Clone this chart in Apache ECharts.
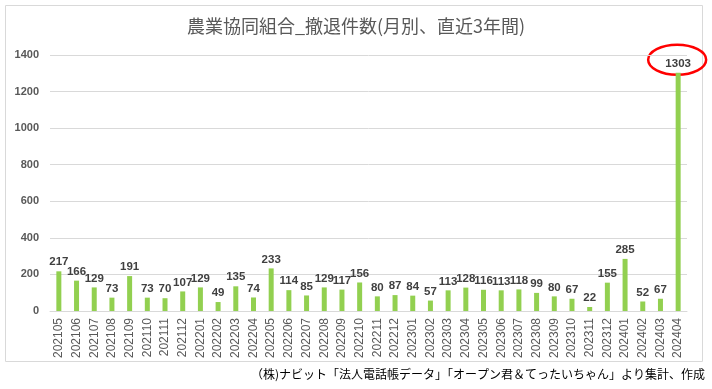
<!DOCTYPE html>
<html><head><meta charset="utf-8">
<script src="https://cdn.jsdelivr.net/npm/echarts@6/dist/echarts.min.js"></script>
<style>html,body{margin:0;padding:0;background:#fff}#c{width:712px;height:389px}</style>
</head><body><div id="c"></div>
<script>
const categories = ['202105','202106','202107','202108','202109','202110','202111','202112',
 '202201','202202','202203','202204','202205','202206','202207','202208','202209','202210','202211','202212',
 '202301','202302','202303','202304','202305','202306','202307','202308','202309','202310','202311','202312',
 '202401','202402','202403','202404'];
const withdrawals = [217,166,129,73,191,73,70,107,
 129,49,135,74,233,114,85,129,117,156,80,87,
 84,57,113,128,116,113,118,99,80,67,22,155,
 285,52,67,1303];
const yTicks = [0,200,400,600,800,1000,1200,1400];
const titleText = '農業協同組合_撤退件数(月別、直近3年間)';
const sourceText = '（株)ナビット「法人電話帳データ」「オープン君＆てったいちゃん」より集計、作成';

const chart = echarts.init(document.getElementById('c'), null, {renderer:'canvas'});
const option = {
  animation:false,
  title:{text:titleText,left:'center',top:12,
    textStyle:{fontFamily:'Noto Sans CJK JP',fontSize:18,fontWeight:'normal',color:'#595959'}},
  grid:{left:50,right:25,top:55,bottom:78},
  xAxis:{type:'category',data:categories,
    axisLine:{lineStyle:{color:'#d9d9d9'}},axisTick:{show:false},
    axisLabel:{rotate:90,interval:0,fontFamily:'Liberation Sans',fontSize:12,color:'#595959',margin:7}},
  yAxis:{type:'value',min:yTicks[0],max:yTicks[yTicks.length-1],interval:200,
    axisLine:{show:false},axisTick:{show:false},
    splitLine:{lineStyle:{color:'#d9d9d9'}},
    axisLabel:{formatter:v=>String(v),fontFamily:'Liberation Sans',fontSize:11,fontWeight:'bold',color:'#595959',margin:11}},
  series:[{type:'bar',data:withdrawals,barWidth:5,itemStyle:{color:'#92d050'},
    label:{show:true,position:'top',distance:3,fontFamily:'Liberation Sans',fontSize:11.5,fontWeight:'bold',color:'#404040'}}],
  graphic:[
    {type:'rect',shape:{x:5.5,y:5.5,width:697,height:356},style:{fill:'none',stroke:'#d9d9d9',lineWidth:1},silent:true},
    {type:'text',right:7,top:368,style:{text:sourceText,font:'12px "Noto Sans CJK JP"',fill:'#000'}}
  ]
};
chart.setOption(option);
const li = withdrawals.length-1;
const p = chart.convertToPixel({seriesIndex:0},[li,withdrawals[li]]);
chart.setOption({graphic:option.graphic.concat([
  {type:'ellipse',shape:{cx:p[0]-1,cy:p[1]-13,rx:29,ry:15},style:{fill:'none',stroke:'#ff0000',lineWidth:2.5},silent:true}
])});
</script></body></html>
